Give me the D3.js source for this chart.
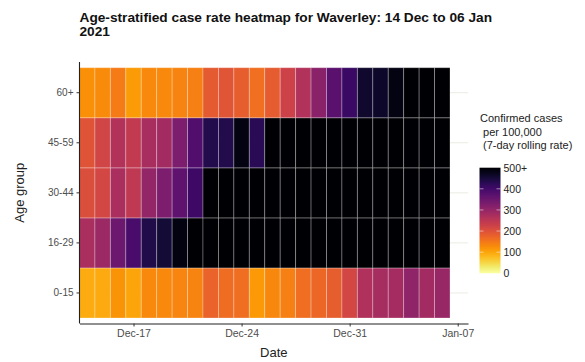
<!DOCTYPE html>
<html>
<head>
<meta charset="utf-8">
<script src="https://cdn.jsdelivr.net/npm/d3@7"></script>
<style>
  html, body { margin: 0; padding: 0; background: #fff; }
  svg { display: block; font-family: "Liberation Sans", Arial, sans-serif; }
</style>
</head>
<body>
<svg id="chart" width="585" height="362"></svg>
<script>
// ---- data ----
const dates = ["2020-12-14","2020-12-15","2020-12-16","2020-12-17","2020-12-18","2020-12-19",
  "2020-12-20","2020-12-21","2020-12-22","2020-12-23","2020-12-24","2020-12-25","2020-12-26",
  "2020-12-27","2020-12-28","2020-12-29","2020-12-30","2020-12-31","2021-01-01","2021-01-02",
  "2021-01-03","2021-01-04","2021-01-05","2021-01-06"];
const ageGroups = ["0-15", "16-29", "30-44", "45-59", "60+"];
const rate0_15  = [92, 95, 118, 100, 130, 130, 133, 135, 175, 164, 162, 112, 131, 140, 162, 168, 180, 217, 264, 277, 278, 306, 282, 293];
const rate16_29 = [270, 291, 348, 390, 438, 452, 486, 520, 560, 600, 640, 680, 700, 720, 760, 800, 820, 840, 860, 880, 900, 900, 880, 860];
const rate30_44 = [205, 217, 271, 245, 299, 330, 365, 405, 510, 540, 580, 610, 640, 660, 700, 740, 760, 780, 800, 820, 820, 800, 780, 760];
const rate45_59 = [197, 220, 261, 241, 274, 282, 330, 382, 435, 435, 484, 426, 505, 530, 560, 590, 620, 650, 680, 700, 710, 700, 690, 680];
const rate60    = [122, 128, 145, 110, 130, 130, 135, 139, 187, 195, 180, 160, 185, 226, 262, 311, 370, 409, 459, 463, 484, 510, 530, 560];
const legendTicks = [0, 100, 200, 300, 400, 500];
const legendLabels = ["0", "100", "200", "300", "400", "500+"];
const titleLines = ["Age-stratified case rate heatmap for Waverley: 14 Dec to 06 Jan", "2021"];
const legendTitle = ["Confirmed cases", " per 100,000", " (7-day rolling rate)"];

const seriesByGroup = { "0-15": rate0_15, "16-29": rate16_29, "30-44": rate30_44, "45-59": rate45_59, "60+": rate60 };
const parse = d3.timeParse("%Y-%m-%d");
const cells = [];
ageGroups.forEach(g => seriesByGroup[g].forEach((v, i) => cells.push({ group: g, date: parse(dates[i]), value: v })));

// ---- layout ----
const svg = d3.select("#chart");
const panel = { left: 79.5, right: 468, top: 62, bottom: 323.5 };
const tileTop = 67.7, tileBottom = 318;

const first = parse(dates[0]);
const x = d3.scaleTime()
  .domain([d3.timeHour.offset(first, -12), d3.timeHour.offset(first, 24 * 25.17 - 12)])
  .range([panel.left, panel.right]);
const y = d3.scaleBand().domain(ageGroups.slice().reverse()).range([tileTop, tileBottom]).padding(0);
const maxV = 500;
const color = v => d3.interpolateInferno(1 - Math.min(v, maxV) / maxV);

// gridlines
svg.append("g").selectAll("line").data(ageGroups).join("line")
  .attr("x1", panel.left).attr("x2", panel.right)
  .attr("y1", d => y(d) + y.bandwidth() / 2).attr("y2", d => y(d) + y.bandwidth() / 2)
  .attr("stroke", "#ebebe3").attr("stroke-width", 1);

// tiles
const dayW = x(d3.timeDay.offset(first, 1)) - x(first);
svg.append("g").selectAll("rect").data(cells).join("rect")
  .attr("x", d => x(d.date) - dayW / 2)
  .attr("y", d => y(d.group))
  .attr("width", dayW)
  .attr("height", y.bandwidth())
  .attr("fill", d => color(d.value))
  .attr("stroke", "#ffffff").attr("stroke-opacity", 0.3).attr("stroke-width", 0.9);

// axes
const xAxis = d3.axisBottom(x)
  .tickValues([parse("2020-12-17"), parse("2020-12-24"), parse("2020-12-31"), parse("2021-01-07")])
  .tickFormat(d3.timeFormat("%b-%d")).tickSize(3).tickPadding(3).tickSizeOuter(0);
const gx = svg.append("g").attr("transform", `translate(0,${panel.bottom})`).call(xAxis);
gx.select(".domain").attr("stroke", "#222").attr("stroke-width", 1.1);
gx.selectAll(".tick line").attr("stroke", "#333");
gx.selectAll(".tick text").attr("fill", "#4d4d4d").style("font-size", "10.5px")
  .style("font-family", "'Liberation Sans', Arial, sans-serif");

const yAxis = d3.axisLeft(y).tickSize(3).tickPadding(3).tickSizeOuter(0);
const gy = svg.append("g").attr("transform", `translate(${panel.left},0)`).call(yAxis);
gy.select(".domain").attr("d", `M0,${panel.top}V${panel.bottom}`).attr("stroke", "#222").attr("stroke-width", 1.1);
gy.selectAll(".tick line").attr("stroke", "#333");
gy.selectAll(".tick text").attr("fill", "#4d4d4d").style("font-size", "10px")
  .style("font-family", "'Liberation Sans', Arial, sans-serif");

// axis titles
svg.append("text").attr("x", (panel.left + panel.right) / 2).attr("y", 357)
  .attr("text-anchor", "middle").style("font-size", "13px").attr("fill", "#222").text("Date");
svg.append("text").attr("transform", `translate(24,${(panel.top + panel.bottom) / 2}) rotate(-90)`)
  .attr("text-anchor", "middle").style("font-size", "13px").attr("fill", "#222").text("Age group");

// title
svg.append("g").selectAll("text").data(titleLines).join("text")
  .attr("x", panel.left).attr("y", (d, i) => 21.5 + i * 14.5)
  .style("font-size", "13.7px").style("font-weight", "bold").attr("fill", "#111").text(d => d);

// legend
const lg = svg.append("g");
lg.selectAll("text.lt").data(legendTitle).join("text").attr("class", "lt")
  .attr("x", 480).attr("y", (d, i) => 122 + i * 13.5)
  .style("font-size", "11px").style("white-space", "pre").attr("xml:space", "preserve")
  .attr("fill", "#222").text(d => d);

const barX = 479.5, barW = 21, barTop = 167.7, barBottom = 273.3;
const ly = d3.scaleLinear().domain([0, maxV]).range([barBottom, barTop]);
const defs = svg.append("defs");
const grad = defs.append("linearGradient").attr("id", "lgrad")
  .attr("x1", 0).attr("y1", 1).attr("x2", 0).attr("y2", 0);
d3.range(0, 1.0001, 0.05).forEach(t => grad.append("stop")
  .attr("offset", t).attr("stop-color", color(t * maxV)));
lg.append("rect").attr("x", barX).attr("y", barTop).attr("width", barW)
  .attr("height", barBottom - barTop).attr("fill", "url(#lgrad)");
const inner = legendTicks.filter(v => v > 0 && v < maxV);
lg.selectAll("line.tl").data(inner).join("line").attr("class", "tl")
  .attr("x1", barX).attr("x2", barX + 4).attr("y1", d => ly(d)).attr("y2", d => ly(d))
  .attr("stroke", "#fff").attr("stroke-opacity", 0.5);
lg.selectAll("line.tr").data(inner).join("line").attr("class", "tr")
  .attr("x1", barX + barW - 4).attr("x2", barX + barW).attr("y1", d => ly(d)).attr("y2", d => ly(d))
  .attr("stroke", "#fff").attr("stroke-opacity", 0.5);
lg.selectAll("text.ll").data(legendTicks).join("text").attr("class", "ll")
  .attr("x", barX + barW + 3).attr("y", d => ly(d) + 3.8)
  .style("font-size", "10.5px").attr("fill", "#222").text((d, i) => legendLabels[i]);
</script>
</body>
</html>
